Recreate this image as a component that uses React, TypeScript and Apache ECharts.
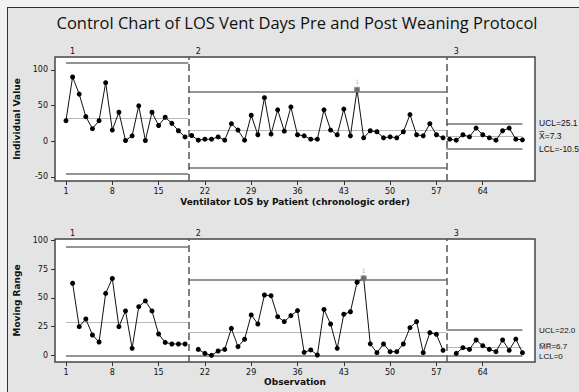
import React, { useEffect, useRef } from "react";
import * as echarts from "echarts";

const titleText = "Control Chart of LOS Vent Days Pre and Post Weaning Protocol";
const xTickValues = [1, 8, 15, 22, 29, 36, 43, 50, 57, 64];
const individualTicks = [-50, 0, 50, 100];
const movingRangeTicks = [0, 25, 50, 75, 100];
const stageNames = ["1", "2", "3"];
const stageFirst = [1, 20, 59];
const stageLast = [19, 58, 70];

const individualValues = [
  28.8, 90, 66, 34.4, 17.5, 28.8, 82, 15.6, 40.6, 1,
  7.5, 49.5, 1, 40.6, 22, 33.5, 25, 14.6, 6, 8,
  1.4, 2.8, 2.8, 6, 1.4, 24.5, 15.6, 1.4, 36.3, 9,
  61, 10, 44, 14, 48, 9, 7.5, 2.8, 2.8, 44,
  15.6, 9, 45, 7.5, 72, 4.7, 14.6, 13.2, 4.7, 6.1,
  4.7, 13.2, 37.3, 9, 7.5, 24.5, 9, 4.7, 2.8, 1.4,
  9, 6.1, 18.4, 9, 4.7, 1.4, 14.6, 18.4, 2.8, 1.9,
];

const movingRanges: (number | null)[] = [
  null, 62.8, 25, 31.7, 17.7, 11.6, 54, 67, 25, 38.7,
  6.1, 42.4, 47.4, 38.7, 18.6, 11.3, 9.9, 9.9, 9.9, null,
  5.2, 1.7, 0, 3.8, 5.2, 23.5, 7.6, 14, 35.2, 27.3,
  52.6, 52, 33.7, 29.4, 34.6, 39, 2.6, 4.7, 0.3, 40,
  27.3, 6.1, 35.8, 38, 63.7, 67.2, 10, 2.3, 9.9, 3.2,
  3.2, 9.9, 24.1, 29.4, 2.3, 19.8, 18.3, 4.4, null, 1.7,
  6.7, 5.2, 13.4, 8.4, 5.2, 3.2, 13.4, 4.4, 14.2, 2.3,
];

const iUCL = [109.4, 69.7, 25.1];
const iCL = [31.6, 15.5, 7.3];
const iLCL = [-45.8, -37.5, -10.5];
const mrUCL = [94.5, 66.0, 22.0];
const mrCL = [29.0, 20.0, 6.7];
const mrLCL = [0, 0, 0];
const iOutOfControl = [45];
const mrOutOfControl = [46];
const iLimitLabels = ["UCL=25.1", "X\u0305=7.3", "LCL=-10.5"];
const mrLimitLabels = ["UCL=22.0", "M\u0305R\u0305=6.7", "LCL=0"];

const FONT = '"DejaVu Sans", sans-serif';
const LABEL_FONT = '"Liberation Sans", sans-serif';
const X_MIN = -0.66;
const X_MAX = 71.9;

function segRange(k: number): [number, number] {
  const x0 = k === 0 ? stageFirst[0] : (stageLast[k - 1] + stageFirst[k]) / 2;
  const x1 = k === stageFirst.length - 1 ? stageLast[k] : (stageLast[k] + stageFirst[k + 1]) / 2;
  return [x0, x1];
}

function buildSeries(
  g: number,
  values: (number | null)[],
  ucl: number[],
  cl: number[],
  lcl: number[],
  ooc: number[],
  offset: number
) {
  const out: any[] = [];
  const limitStyle = { color: "#707070", width: 1.5, type: "solid" };
  const centerStyle = { color: "#b8b8b8", width: 1, type: "solid" };
  const mlData: any[] = [];
  for (let k = 0; k < stageFirst.length; k++) {
    const [x0, x1] = segRange(k);
    mlData.push([{ coord: [x0, ucl[k]], lineStyle: limitStyle }, { coord: [x1, ucl[k]] }]);
    mlData.push([{ coord: [x0, cl[k]], lineStyle: centerStyle }, { coord: [x1, cl[k]] }]);
    mlData.push([{ coord: [x0, lcl[k]], lineStyle: limitStyle }, { coord: [x1, lcl[k]] }]);
  }
  for (let k = 0; k < stageFirst.length - 1; k++) {
    mlData.push({
      xAxis: (stageLast[k] + stageFirst[k + 1]) / 2,
      lineStyle: { color: "#555", width: 1.5, type: [7, 4] },
    });
  }
  for (let k = 0; k < stageFirst.length; k++) {
    const data: number[][] = [];
    for (let i = stageFirst[k] + offset; i <= stageLast[k]; i++) {
      const v = values[i - 1];
      if (v !== null && v !== undefined) data.push([i, v]);
    }
    const s: any = {
      type: "line",
      xAxisIndex: g,
      yAxisIndex: g,
      data,
      symbol: "circle",
      symbolSize: 5,
      itemStyle: { color: "#000" },
      lineStyle: { color: "#111", width: 1 },
      z: 5,
      silent: true,
    };
    if (k === 0) {
      s.markLine = {
        silent: true,
        symbol: "none",
        label: { show: false },
        z: 2,
        data: mlData,
      };
    }
    out.push(s);
  }
  out.push({
    type: "scatter",
    xAxisIndex: g,
    yAxisIndex: g,
    data: ooc.map((i) => [i, values[i - 1]]),
    symbol: "rect",
    symbolSize: 6,
    itemStyle: { color: "#8a8a8a" },
    label: {
      show: true,
      position: "top",
      distance: 2,
      formatter: "1",
      fontSize: 6,
      color: "#9a9a9a",
      fontFamily: FONT,
    },
    z: 6,
    silent: true,
  });
  return out;
}

function axisX(g: number, name: string, gap: number) {
  return {
    type: "value",
    gridIndex: g,
    min: X_MIN,
    max: X_MAX,
    name,
    nameLocation: "middle",
    nameGap: gap,
    nameTextStyle: { fontFamily: FONT, fontWeight: "bold", fontSize: 9, color: "#111" },
    axisLine: { show: false, onZero: false },
    splitLine: { show: false },
    axisTick: { show: true, length: 4, customValues: xTickValues, lineStyle: { color: "#333", width: 1 } },
    axisLabel: { customValues: xTickValues, fontFamily: FONT, fontSize: 8, color: "#111", margin: 6 },
  };
}

function axisY(g: number, name: string, min: number, max: number, ticks: number[]) {
  return {
    type: "value",
    gridIndex: g,
    min,
    max,
    name,
    nameLocation: "middle",
    nameGap: 25,
    nameTextStyle: { fontFamily: FONT, fontWeight: "bold", fontSize: 9, color: "#111" },
    axisLine: { show: false, onZero: false },
    splitLine: { show: false },
    axisTick: { show: true, length: 4, customValues: ticks, lineStyle: { color: "#333", width: 1 } },
    axisLabel: { customValues: ticks, fontFamily: FONT, fontSize: 8, color: "#111", margin: 7 },
  };
}

export default function App() {
  const ref = useRef<HTMLDivElement>(null);
  useEffect(() => {
    if (!ref.current) return;
    const chart = echarts.init(ref.current, undefined, { renderer: "svg" });
    const option: any = {
      animation: false,
      backgroundColor: "transparent",
      grid: [
        { left: 55, top: 57, width: 480, height: 124, show: true, backgroundColor: "#fff", borderColor: "#454545", borderWidth: 1.5 },
        { left: 55, top: 239, width: 480, height: 123, show: true, backgroundColor: "#fff", borderColor: "#454545", borderWidth: 1.5 },
      ],
      xAxis: [axisX(0, "Ventilator LOS by Patient (chronologic order)", 16), axisX(1, "Observation", 15)],
      yAxis: [
        axisY(0, "Individual Value", -55.8, 118, individualTicks),
        axisY(1, "Moving Range", -5.8, 101.4, movingRangeTicks),
      ],
      series: [
        ...buildSeries(0, individualValues, iUCL, iCL, iLCL, iOutOfControl, 0),
        ...buildSeries(1, movingRanges, mrUCL, mrCL, mrLCL, mrOutOfControl, 1),
      ],
    };
    chart.setOption(option);

    const px = (g: number, x: number, y: number) =>
      chart.convertToPixel({ gridIndex: g } as any, [x, y]) as number[];
    const txt = (text: string, x: number, y: number, size: number, align: string, extra: any = {}) => ({
      type: "text",
      silent: true,
      style: {
        text,
        x,
        y,
        fill: "#111",
        font: `${extra.weight || "normal"} ${size}px ${extra.family || FONT}`,
        textAlign: align,
        textVerticalAlign: "middle",
        align,
        verticalAlign: "middle",
      },
    });
    const elements: any[] = [];
    elements.push(txt(titleText, 297, 22, 16.5, "center", { family: '"Open Sans", sans-serif' }));
    for (let k = 0; k < stageFirst.length; k++) {
      const a = px(0, stageFirst[k] + 1, 0);
      elements.push(txt(stageNames[k], a[0], 51.5, 8, "center"));
      const b = px(1, stageFirst[k] + 1, 0);
      elements.push(txt(stageNames[k], b[0], 233, 8, "center"));
    }
    const last = stageFirst.length - 1;
    const topVals = [iUCL[last], iCL[last], iLCL[last]];
    topVals.forEach((v, i) => {
      const p = px(0, X_MAX, v);
      elements.push(txt(iLimitLabels[i], 539, p[1], 8.5, "left", { family: LABEL_FONT }));
    });
    const botVals = [mrUCL[last], mrCL[last], mrLCL[last]];
    const botShift = [0, -1, 1];
    botVals.forEach((v, i) => {
      const p = px(1, X_MAX, v);
      elements.push(txt(mrLimitLabels[i], 539, p[1] + botShift[i], 8, "left", { family: LABEL_FONT }));
    });
    chart.setOption({ graphic: { elements } });

    return () => chart.dispose();
  }, []);

  return (
    <div style={{ position: "fixed", left: 0, top: 0, width: 579, height: 392, background: "#f2f2f2", overflow: "hidden" }}>
      <div
        style={{
          position: "absolute",
          left: 7,
          top: 7,
          width: 700,
          height: 500,
          background: "#e4e4e4",
          borderLeft: "1px solid #333",
          borderTop: "1px solid #333",
        }}
      />
      <div ref={ref} style={{ position: "absolute", left: 0, top: 0, width: 579, height: 392 }} />
    </div>
  );
}
